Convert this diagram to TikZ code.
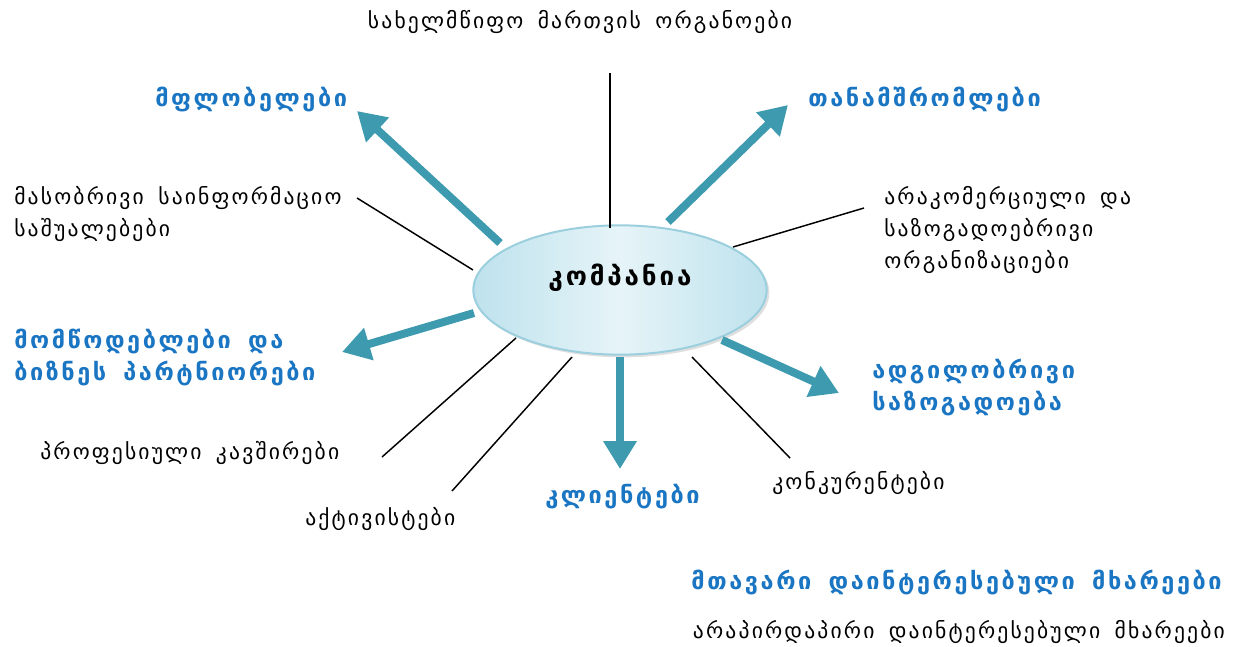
\documentclass[tikz,border=0pt]{standalone}
\usepackage{fontspec}
\setmainfont{DejaVu Sans}[LetterSpace=10,WordSpace=1.6]
\newfontfamily\geobold{DejaVu Sans Bold}[LetterSpace=11,WordSpace=1.6]
\usetikzlibrary{arrows.meta,shapes.geometric,shadows}
\definecolor{arrowteal}{HTML}{3E9AAF}
\definecolor{bluetxt}{HTML}{1A75C2}
\definecolor{ellfill}{HTML}{BEE2ED}
\definecolor{ellmid}{HTML}{E6F4F8}
\definecolor{elldraw}{HTML}{9BCFDD}
\tikzset{
  plain/.style={font=\fontsize{16.2}{24}\selectfont, text=black, inner sep=0pt, align=left},
  key/.style={font=\fontsize{17.6}{24}\geobold, text=bluetxt, inner sep=0pt, align=left},
  thin/.style={line width=1.1pt, black},
  big/.style={line width=6pt, arrowteal, -{Triangle[length=21pt,width=24pt]}},
}
\begin{document}
\begin{tikzpicture}[x=0.75pt,y=-0.75pt]
\useasboundingbox (0,0) rectangle (1241,646);
% centre
\node[ellipse, minimum width=220pt, minimum height=97pt, draw=elldraw, line width=1.5pt,
  shading=axis, shading angle=135, left color=ellfill, right color=ellfill, middle color=ellmid,
  drop shadow={opacity=0.25, shadow xshift=2pt, shadow yshift=-2pt}] (c) at (620,290) {};
\node[font=\fontsize{19.5}{22}\geobold, inner sep=0pt] (ct) at (620,278) {კომპანია};
% texts
\node[plain, anchor=base] (gov) at (580,28) {სახელმწიფო მართვის ორგანოები};
\node[key, anchor=base west] (own) at (155,106) {მფლობელები};
\node[key, anchor=base west] (emp) at (808,106) {თანამშრომლები};
\node[plain, anchor=north west] (med) at (14,186) {მასობრივი საინფორმაციო\\საშუალებები};
\node[plain, anchor=north west] (ngo) at (884,186) {არაკომერციული და\\საზოგადოებრივი\\ორგანიზაციები};
\node[key, anchor=north west] (sup) at (14,329) {მომწოდებლები და\\ბიზნეს პარტნიორები};
\node[key, anchor=north west] (loc) at (872,359) {ადგილობრივი\\საზოგადოება};
\node[plain, anchor=base west] (prof) at (40,459) {პროფესიული კავშირები};
\node[plain, anchor=base west] (act) at (305,525) {აქტივისტები};
\node[key, anchor=base west] (cli) at (545,503) {კლიენტები};
\node[plain, anchor=base west] (comp) at (772,489) {კონკურენტები};
\node[key, anchor=base east] (main) at (1222,589) {მთავარი დაინტერესებული მხარეები};
\node[plain, anchor=base east] (ind) at (1225,638) {არაპირდაპირი დაინტერესებული მხარეები};
% connector end points
\coordinate (g1) at (610,228); \coordinate (g2) at (610,73);
\coordinate (m1) at (473,270); \coordinate (m2) at (357,198);
\coordinate (n1) at (733,247); \coordinate (n2) at (864,208);
\coordinate (p1) at (516,338); \coordinate (p2) at (382,457);
\coordinate (a1) at (572,357); \coordinate (a2) at (452,491);
\coordinate (k1) at (692,357); \coordinate (k2) at (790,458);
\coordinate (o1) at (500,243); \coordinate (o2) at (357,111);
\coordinate (e1) at (668,222); \coordinate (e2) at (788,105);
\coordinate (s1) at (474,313); \coordinate (s2) at (342,352);
\coordinate (l1) at (722,340); \coordinate (l2) at (839,393);
\coordinate (c1) at (620,357); \coordinate (c2) at (620,469);
\draw[thin] (g1) -- (g2);
\draw[thin] (m1) -- (m2);
\draw[thin] (n1) -- (n2);
\draw[thin] (p1) -- (p2);
\draw[thin] (a1) -- (a2);
\draw[thin] (k1) -- (k2);
\draw[big] (o1) -- (o2);
\draw[big] (e1) -- (e2);
\draw[big] (s1) -- (s2);
\draw[big] (l1) -- (l2);
\draw[big] (c1) -- (c2);
\end{tikzpicture}
\end{document}
